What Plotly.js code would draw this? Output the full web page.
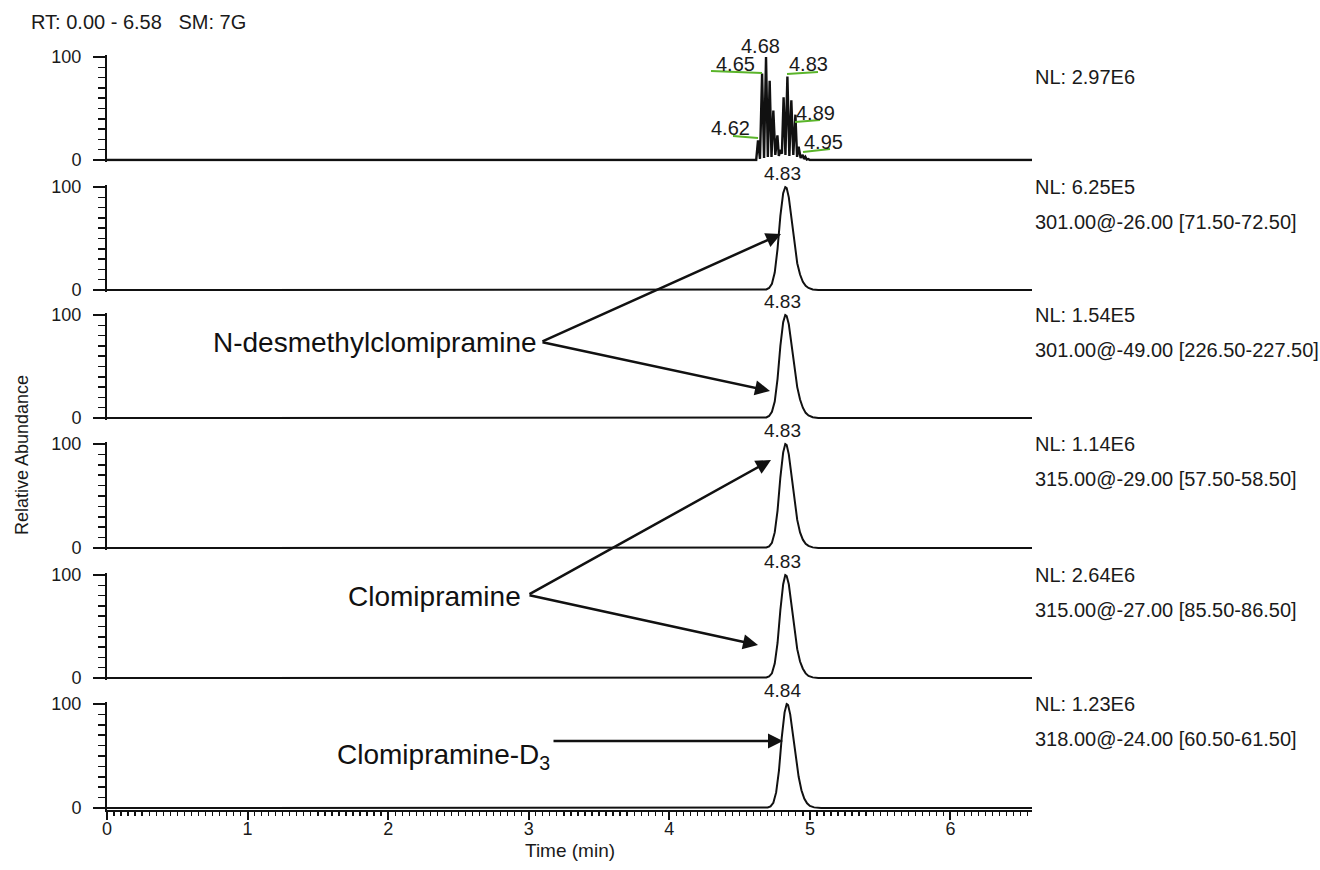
<!DOCTYPE html>
<html>
<head>
<meta charset="utf-8">
<script src="https://cdn.plot.ly/plotly-3.0.1.min.js"></script>
<style>html,body{margin:0;padding:0;background:#fff}</style>
</head>
<body>
<div id="chart" style="width:1320px;height:870px"></div>
<script>
// ---------------- DATA ----------------
const headerText = "RT: 0.00 - 6.58   SM: 7G";
const xTickVals = [0, 1, 2, 3, 4, 5, 6];
const xTickText = ["0", "1", "2", "3", "4", "5", "6"];

// Panel 1: TIC (spiky)
const ticTime  = [0.00, 4.600, 4.618, 4.631, 4.645, 4.660, 4.674, 4.688, 4.701, 4.714, 4.727, 4.740, 4.754, 4.769, 4.779, 4.790, 4.801, 4.813, 4.826, 4.840, 4.854, 4.868, 4.882, 4.897, 4.909, 4.920, 4.934, 4.949, 4.958, 4.968, 4.978, 4.989, 5.000, 6.58];
const ticAbund = [0, 0, 0, 19, 1, 84, 2, 100, 3, 77, 3, 48, 5, 24, 4, 10, 6, 61, 5, 81, 4, 58, 5, 44, 3, 13, 2, 5, 1, 3, 0.5, 1, 0, 0];
const ticPeakLabels = ["4.65", "4.68", "4.83", "4.89", "4.62", "4.95"];

// Panels 2-5 share time points (peak at 4.83); panel 6 peaks at 4.84
const timeA = [0, 4.67, 4.69, 4.71, 4.73, 4.75, 4.77, 4.79, 4.81, 4.825, 4.835, 4.85, 4.87, 4.89, 4.91, 4.93, 4.95, 4.97, 4.99, 5.02, 5.06, 6.58];
const abund301a = [0, 0, 0.5, 2, 6, 17, 40, 72, 94, 100, 99, 90, 68, 44, 26, 15, 8, 4, 2, 0.5, 0, 0];
const abund301b = [0, 0, 0.5, 2, 6, 16, 38, 70, 93, 100, 99, 91, 71, 48, 30, 18, 10, 5, 2.5, 0.8, 0, 0];
const abund315a = [0, 0, 0.5, 1.5, 5, 15, 36, 68, 92, 100, 99, 90, 69, 45, 27, 15, 8, 4, 2, 0.6, 0, 0];
const abund315b = [0, 0, 0.5, 1.5, 4.5, 14, 34, 66, 91, 100, 99, 91, 71, 47, 28, 16, 9, 4.5, 2, 0.6, 0, 0];
const timeB = [0, 4.68, 4.70, 4.72, 4.74, 4.76, 4.78, 4.80, 4.82, 4.835, 4.845, 4.86, 4.88, 4.90, 4.92, 4.94, 4.96, 4.98, 5.00, 5.03, 5.08, 6.58];
const abund318 = [0, 0, 0.5, 1.5, 5, 15, 36, 68, 92, 100, 99, 90, 70, 48, 30, 17, 9, 4.5, 2, 0.6, 0, 0];

const peakLabels = ["4.83", "4.83", "4.83", "4.83", "4.84"];

const nlLabels = ["NL: 2.97E6", "NL: 6.25E5", "NL: 1.54E5", "NL: 1.14E6", "NL: 2.64E6", "NL: 1.23E6"];
const transitions = ["", "301.00@-26.00 [71.50-72.50]", "301.00@-49.00 [226.50-227.50]", "315.00@-29.00 [57.50-58.50]", "315.00@-27.00 [85.50-86.50]", "318.00@-24.00 [60.50-61.50]"];

const compoundLabels = ["N-desmethylclomipramine", "Clomipramine", "Clomipramine-D<sub>3</sub>"];

// ---------------- LAYOUT HELPERS ----------------
const W = 1320, H = 870;
const M = {l: 107, r: 288, t: 50, b: 55};
const plotW = W - M.l - M.r, plotH = H - M.t - M.b;
const px2x = px => (px - M.l) / plotW;
const px2y = py => (H - M.b - py) / plotH;

const panelTopPx = [57, 187, 315, 444, 575, 704];   // pixel of 100
const panelBotPx = [160, 290, 418, 548, 678, 808];  // pixel of 0
const yPad = 1.5;
const FONT = "Liberation Sans, Arial, Helvetica, sans-serif";
const INK = "#111";
const TXT = "#1a1a1a";
const GREEN = "#5ab42a";

const series = [
  {x: ticTime, y: ticAbund, w: 2.4},
  {x: timeA, y: abund301a, w: 2},
  {x: timeA, y: abund301b, w: 2},
  {x: timeA, y: abund315a, w: 2},
  {x: timeA, y: abund315b, w: 2},
  {x: timeB, y: abund318, w: 2}
];

const traces = series.map((s, i) => ({
  type: "scatter", mode: "lines", x: s.x, y: s.y,
  xaxis: "x", yaxis: i === 0 ? "y" : "y" + (i + 1),
  line: {color: INK, width: s.w, shape: "linear"},
  hoverinfo: "skip", showlegend: false
}));

const layout = {
  width: W, height: H,
  margin: M,
  paper_bgcolor: "#fff", plot_bgcolor: "#fff",
  font: {family: FONT, color: TXT, size: 18},
  showlegend: false,
  xaxis: {
    anchor: "y6", domain: [0, 1], range: [0, 6.58],
    tickmode: "array", tickvals: xTickVals, ticktext: xTickText,
    ticks: "outside", ticklen: 8, tickwidth: 2, tickcolor: INK,
    ticklabelstandoff: -6,
    showline: true, linewidth: 2, linecolor: INK,
    showgrid: false, zeroline: false,
    tickfont: {size: 18, color: TXT},
    minor: {dtick: 0.05, tick0: 0, ticks: "outside", ticklen: 4, tickwidth: 1.3, tickcolor: INK, showgrid: false},
    fixedrange: true
  },
  annotations: [],
  shapes: []
};

for (let i = 0; i < 6; i++) {
  const ppu = (panelBotPx[i] - panelTopPx[i]) / 100;
  const d0 = px2y(panelBotPx[i] + yPad * ppu);
  const d1 = px2y(panelTopPx[i] - yPad * ppu);
  const key = i === 0 ? "yaxis" : "yaxis" + (i + 1);
  layout[key] = {
    domain: [d0, d1], range: [-yPad, 100 + yPad], anchor: "x",
    tickmode: "linear", tick0: 0, dtick: 100,
    ticks: "outside", ticklen: 12, tickwidth: 2, tickcolor: INK,
    ticklabelstandoff: 8,
    showline: true, linewidth: 2, linecolor: INK,
    showgrid: false, zeroline: false,
    tickfont: {size: 18, color: TXT},
    minor: {dtick: 10, tick0: 0, ticks: "outside", ticklen: 7, tickwidth: 1.5, tickcolor: INK, showgrid: false},
    fixedrange: true
  };
  // right-hand labels
  const nlY = i === 0 ? 77 : panelTopPx[i];
  layout.annotations.push({xref: "paper", yref: "paper", x: px2x(1033), y: px2y(nlY),
    xanchor: "left", yanchor: "middle", text: nlLabels[i], showarrow: false,
    font: {size: 20, color: TXT}});
  if (transitions[i]) {
    layout.annotations.push({xref: "paper", yref: "paper", x: px2x(1033), y: px2y(panelTopPx[i] + 35),
      xanchor: "left", yanchor: "middle", text: transitions[i], showarrow: false,
      font: {size: 20, color: TXT}});
  }
}

// peak labels panels 2-6
peakLabels.forEach((lab, k) => {
  layout.annotations.push({xref: "paper", yref: "paper", x: px2x(782), y: px2y(panelTopPx[k + 1] - 14),
    xanchor: "center", yanchor: "middle", text: lab, showarrow: false,
    font: {size: 19, color: TXT}});
});

// TIC labels with green leader lines (panel 1), pixel positions
const ticLabelPos = [[735, 64], [760, 46], [808, 64], [815, 113], [730, 128], [823, 142]];
const ticLeaders = [[[711, 71], [762, 73]], null, [[787, 74], [818, 72]], [[795, 122], [820, 120]], [[733, 136], [758, 138]], [[803, 152], [830, 149]]];
ticPeakLabels.forEach((lab, k) => {
  layout.annotations.push({xref: "paper", yref: "paper", x: px2x(ticLabelPos[k][0]), y: px2y(ticLabelPos[k][1]),
    xanchor: "center", yanchor: "middle", text: lab, showarrow: false, font: {size: 20, color: TXT}});
  const L = ticLeaders[k];
  if (L) {
    layout.shapes.push({type: "line", xref: "paper", yref: "paper",
      x0: px2x(L[0][0]), y0: px2y(L[0][1]), x1: px2x(L[1][0]), y1: px2y(L[1][1]),
      line: {color: GREEN, width: 2}});
  }
});

// compound labels
const compoundPos = [[539, 342], [523, 596], [552, 756]];
compoundLabels.forEach((lab, k) => {
  layout.annotations.push({xref: "paper", yref: "paper", x: px2x(compoundPos[k][0]), y: px2y(compoundPos[k][1]),
    xanchor: "right", yanchor: "middle", text: lab, showarrow: false,
    font: {size: 28, color: "#111"}});
});

// arrows: [tail, tip]
const arrows = [
  [[541, 342], [781, 234]],
  [[541, 342], [770, 391]],
  [[528, 595], [771, 460]],
  [[528, 595], [758, 645]],
  [[552, 741], [783, 741]]
];
arrows.forEach(a => {
  layout.annotations.push({xref: "paper", yref: "paper", x: px2x(a[1][0]), y: px2y(a[1][1]),
    ax: a[0][0] - a[1][0], ay: a[0][1] - a[1][1], axref: "pixel", ayref: "pixel",
    text: "", showarrow: true, arrowhead: 2, arrowsize: 1.2, arrowwidth: 2.5, arrowcolor: "#111",
    standoff: 0, startstandoff: 0});
});

// header + axis titles
layout.annotations.push({xref: "paper", yref: "paper", x: px2x(29), y: px2y(22), xanchor: "left", yanchor: "middle",
  text: headerText.replace(/   /g, "&nbsp;&nbsp;&nbsp;"), showarrow: false, font: {size: 20, color: TXT}});
layout.annotations.push({xref: "paper", yref: "paper", x: px2x(570), y: px2y(850), xanchor: "center", yanchor: "middle",
  text: "Time (min)", showarrow: false, font: {size: 19, color: TXT}});
layout.annotations.push({xref: "paper", yref: "paper", x: px2x(22), y: px2y(455), xanchor: "center", yanchor: "middle",
  text: "Relative Abundance", textangle: -90, showarrow: false, font: {size: 18, color: TXT}});

Plotly.newPlot("chart", traces, layout, {staticPlot: true, displayModeBar: false});
</script>
</body>
</html>
